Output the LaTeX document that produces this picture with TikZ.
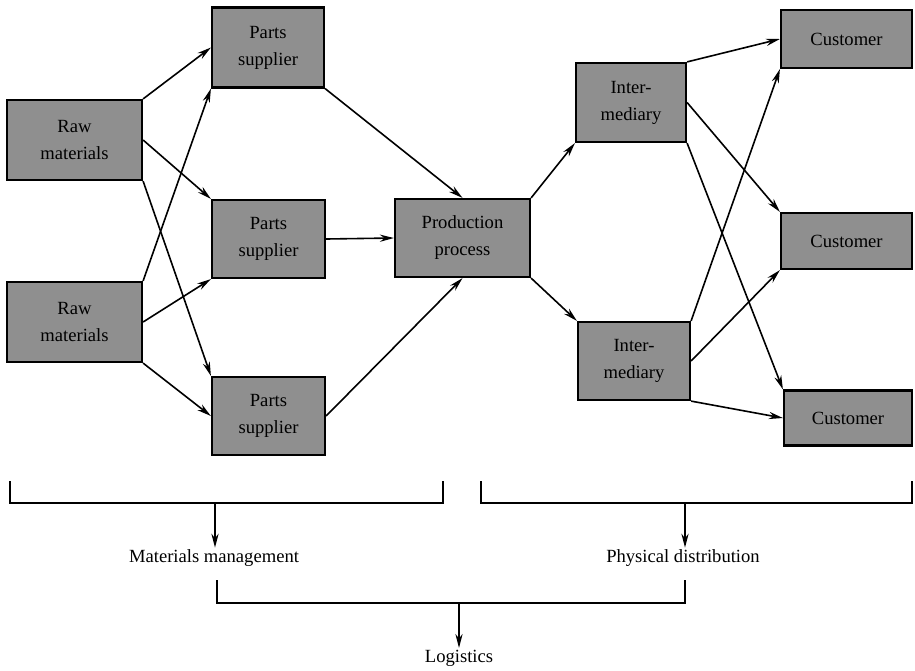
\documentclass[tikz,border=0pt]{standalone}
\usepackage{fontspec}
\setmainfont{Liberation Serif}
\usetikzlibrary{arrows.meta}
\definecolor{BoxGray}{gray}{0.56}

\begin{document}
\begin{tikzpicture}[x=0.5pt,y=0.5pt,yscale=-1,xscale=1,
	box/.style={draw=black, line width=1.1pt, fill=BoxGray, align=center, inner sep=0pt, font=\fontsize{9.3}{13.5}\selectfont},
	link/.style={line width=0.8pt, -{Stealth[length=7pt,width=3.6pt]}},
	brace/.style={line width=0.8pt},
	label/.style={font=\fontsize{9.3}{11}\selectfont, inner sep=0.75pt}]
		% Fix the page to the size of the diagram
		\useasboundingbox (0,0) rectangle (915,670);

		% The two raw material boxes on the left
		\node[box, minimum width=67.5pt, minimum height=40pt] (raw1) at (74.5,140) {Raw\\materials};
		\node[box, minimum width=67.5pt, minimum height=40pt] (raw2) at (74.5,322) {Raw\\materials};

		% The three parts suppliers
		\node[box, minimum width=56pt, minimum height=40pt] (parts1) at (268,47.5) {Parts\\supplier};
		\node[box, minimum width=56.5pt, minimum height=39pt] (parts2) at (268.5,239) {Parts\\supplier};
		\node[box, minimum width=56.5pt, minimum height=39pt] (parts3) at (268.5,416) {Parts\\supplier};

		% The production process in the middle
		\node[box, minimum width=67.5pt, minimum height=39pt] (prod) at (462.5,238) {Production\\process};

		% The two intermediaries
		\node[box, minimum width=55pt, minimum height=39.5pt] (inter1) at (631,102.5) {Inter-\\mediary};
		\node[box, minimum width=56pt, minimum height=39pt] (inter2) at (634,361) {Inter-\\mediary};

		% The three customers on the right
		\node[box, minimum width=65.5pt, minimum height=29pt] (cust1) at (846.5,39) {Customer};
		\node[box, minimum width=65.5pt, minimum height=28pt] (cust2) at (846.5,241) {Customer};
		\node[box, minimum width=64pt, minimum height=27.5pt] (cust3) at (848,418) {Customer};

		% Raw materials to parts suppliers
		\draw[link] (raw1.north east) -- (parts1.west);
		\draw[link] (raw1.east) -- (parts2.north west);
		\draw[link] (raw1.south east) -- (parts3.north west);
		\draw[link] (raw2.north east) -- (parts1.south west);
		\draw[link] (raw2.east) -- (parts2.south west);
		\draw[link] (raw2.south east) -- (parts3.west);

		% Parts suppliers to production
		\draw[link] (parts1.south east) -- (prod.north);
		\draw[link] (parts2.east) -- (prod.west);
		\draw[link] (parts3.east) -- (prod.south);

		% Production to intermediaries
		\draw[link] (prod.north east) -- (inter1.south west);
		\draw[link] (prod.south east) -- (inter2.north west);

		% Intermediaries to customers
		\draw[link] (inter1.north east) -- (cust1.west);
		\draw[link] (inter1.east) -- (cust2.north west);
		\draw[link] (inter1.south east) -- (cust3.north west);
		\draw[link] (inter2.north east) -- (cust1.south west);
		\draw[link] (inter2.east) -- (cust2.south west);
		\draw[link] (inter2.south east) -- (cust3.west);

		% Labels under the brackets
		\node[label] (matman) at (214,558) {Materials management};
		\node[label] (physdist) at (683,558) {Physical distribution};
		\node[label] (logist) at (459,658) {Logistics};

		% Bracket under the supply side
		\draw[brace] (10,481) -- (10,503) -- (443,503) -- (443,481);
		\coordinate (mmtop) at (215,503);
		\draw[link] (mmtop) -- (matman.north -| mmtop);

		% Bracket under the distribution side
		\draw[brace] (481,481) -- (481,503) -- (912,503) -- (912,481);
		\coordinate (pdtop) at (685,503);
		\draw[link] (pdtop) -- (physdist.north -| pdtop);

		% Bracket joining both into logistics
		\draw[brace] (217,580) -- (217,603) -- (685,603) -- (685,580);
		\coordinate (lgtop) at (459,603);
		\draw[link] (lgtop) -- (logist.north);
	\end{tikzpicture}
\end{document}
